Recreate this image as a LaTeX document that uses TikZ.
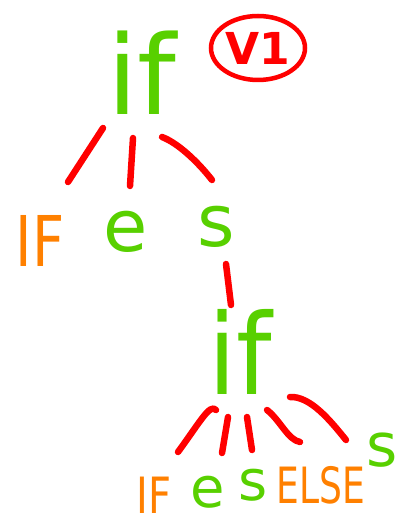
\documentclass[tikz,border=0pt]{standalone}
\usepackage{fontspec}
\setmainfont{DejaVu Sans}
\definecolor{ink green}{RGB}{88,208,0}
\definecolor{ink red}{RGB}{255,0,0}
\definecolor{ink orange}{RGB}{255,128,0}
\tikzset{
  word/.style={inner sep=0pt, outer sep=0pt},
  nonterm/.style={word, text=ink green},
  term/.style={word, text=ink orange},
  stroke/.style={draw=ink red, line width=6.5pt, line cap=round, line join=round},
}
\begin{document}
\begin{tikzpicture}[x=1pt,y=-1pt]
\useasboundingbox (0,0) rectangle (399,521);

% root of the tree and its version tag
\node[nonterm, font=\fontsize{110}{110}\selectfont] (root) at (142,73) {if};
\node[word, text=ink red, font=\bfseries\fontsize{44}{44}\selectfont] (tag) at (258,48) {V1};
\draw[draw=ink red, line width=4.5pt] (tag) ellipse [x radius=47, y radius=32];

% first level children
\node[term, font=\fontsize{70}{70}\selectfont, xscale=0.8] (kw1) at (40,241) {IF};
\node[nonterm, font=\fontsize{72}{72}\selectfont] (cond1) at (126,232) {e};
\node[nonterm, font=\fontsize{72}{72}\selectfont] (stmt1) at (216,227) {s};

% nested if statement
\node[nonterm, font=\fontsize{112}{112}\selectfont, xscale=0.9] (inner) at (240,352) {if};

% second level children
\node[term, font=\fontsize{50}{50}\selectfont, xscale=0.8] (kw2) at (154,495) {IF};
\node[nonterm, font=\fontsize{56}{56}\selectfont] (cond2) at (208,492) {e};
\node[nonterm, font=\fontsize{56}{56}\selectfont] (stmt2) at (253,485) {s};
\node[term, font=\fontsize{50}{50}\selectfont, xscale=0.72] (kwelse) at (321,485) {ELSE};
\node[nonterm, font=\fontsize{60}{60}\selectfont] (stmt3) at (382,450) {s};

% stroke end points of the tree edges
\coordinate (r1a) at (103,128); \coordinate (r1b) at (68,182);
\coordinate (r2a) at (133,138); \coordinate (r2b) at (130,186);
\coordinate (r3a) at (162,137); \coordinate (r3b) at (212,180);
\coordinate (s1a) at (226,264); \coordinate (s1b) at (231,305);
\coordinate (i1a) at (216,410); \coordinate (i1b) at (178,452);
\coordinate (i2a) at (228,417); \coordinate (i2b) at (222,453);
\coordinate (i3a) at (247,417); \coordinate (i3b) at (252,450);
\coordinate (i4a) at (267,410); \coordinate (i4b) at (300,442);
\coordinate (i5a) at (290,397); \coordinate (i5b) at (346,440);

% edges: root -> IF e s
\draw[stroke] (r1a) -- (r1b);
\draw[stroke] (r2a) -- (r2b);
\draw[stroke] (r3a) .. controls (178,143) and (198,162) .. (r3b);
% edge: s -> nested if
\draw[stroke] (s1a) -- (s1b);
% edges: nested if -> IF e s ELSE s
\draw[stroke] (i1a) .. controls (210,403) and (200,422) .. (i1b);
\draw[stroke] (i2a) -- (i2b);
\draw[stroke] (i3a) -- (i3b);
\draw[stroke] (i4a) .. controls (280,420) and (288,440) .. (i4b);
\draw[stroke] (i5a) .. controls (310,396) and (330,420) .. (i5b);
\end{tikzpicture}
\end{document}
